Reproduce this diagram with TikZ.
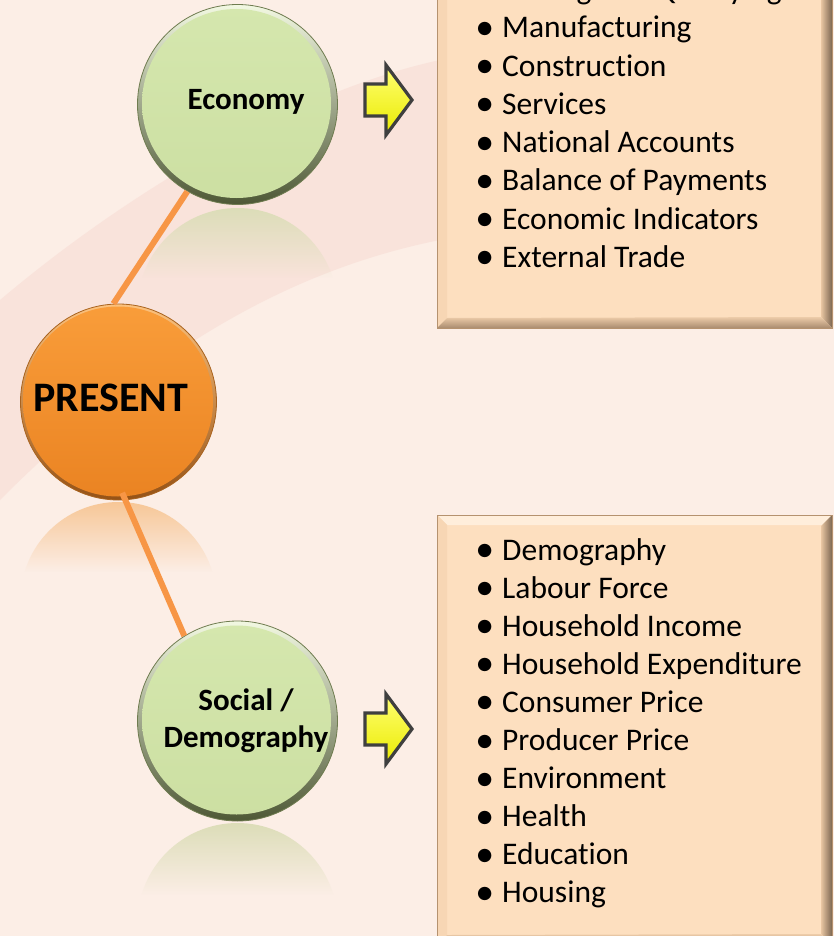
\documentclass[tikz,border=0pt]{standalone}
\usepackage{fontspec}
\setmainfont{Carlito}[Ligatures=NoCommon]
\newfontfamily\dotfont{DejaVu Sans}
\usetikzlibrary{fadings}

\definecolor{bgcol}{HTML}{FCEEE6}
\definecolor{swooshcol}{HTML}{F5CFC8}
\definecolor{greentop}{HTML}{D5E7AE}
\definecolor{greenbot}{HTML}{CCDFA2}
\definecolor{greenrimA}{HTML}{F2F8E2}
\definecolor{greenrimB}{HTML}{4E5836}
\definecolor{greenline}{HTML}{6F7C50}
\definecolor{orangetop}{HTML}{F99D3A}
\definecolor{orangebot}{HTML}{EA8322}
\definecolor{orangerimA}{HTML}{FCC27E}
\definecolor{orangerimB}{HTML}{955216}
\definecolor{orangeline}{HTML}{A9631F}
\definecolor{reflgreen}{HTML}{DCDDB8}
\definecolor{reflorange}{HTML}{F7C797}
\definecolor{linkorange}{HTML}{F79646}
\definecolor{boxface}{HTML}{FDDFBF}
\definecolor{boxline}{HTML}{B5926F}
\definecolor{bevtop}{HTML}{FFEEDB}
\definecolor{bevleft}{HTML}{F7D6B4}
\definecolor{bevRin}{HTML}{E9C6A2}
\definecolor{bevRout}{HTML}{7C6651}
\definecolor{bevBin}{HTML}{EDCCA9}
\definecolor{bevBout}{HTML}{A98B6F}
\definecolor{arrowline}{HTML}{3F3F3F}

\newcommand\dotmark{\makebox[25pt][l]{\raisebox{4.5pt}{\dotfont\fontsize{17.5}{17.5}\selectfont ●}}}

\tikzset{
  bubble/.style={circle, inner sep=0pt, line width=0.8pt},
  greenball/.style={bubble, minimum size=200pt, draw=greenline,
    top color=greenrimA, bottom color=greenrimB,
    path picture={\shade[top color=greentop, bottom color=greenbot]
      ([shift={(-1pt,1pt)}]path picture bounding box.center) circle (94.5pt);}},
  orangeball/.style={bubble, minimum size=196pt, draw=orangeline,
    top color=orangerimA, bottom color=orangerimB,
    path picture={\shade[top color=orangetop, bottom color=orangebot]
      ([shift={(-0.5pt,0.5pt)}]path picture bounding box.center) circle (95pt);}},
  bubbletext/.style={font=\bfseries\fontsize{31}{37}\selectfont, align=center, inner sep=0pt},
  link/.style={draw=linkorange, line width=6pt},
  listbox/.style={rectangle, inner sep=0pt, draw=boxline, line width=1pt, fill=boxface,
    path picture={
      \path (path picture bounding box.north west) coordinate (pNW)
            (path picture bounding box.north east) coordinate (pNE)
            (path picture bounding box.south west) coordinate (pSW)
            (path picture bounding box.south east) coordinate (pSE);
      \fill[bevtop] (pNW) -- (pNE) -- ([shift={(-10pt,-10pt)}]pNE) -- ([shift={(10pt,-10pt)}]pNW) -- cycle;
      \fill[bevleft] (pNW) -- ([shift={(10pt,-10pt)}]pNW) -- ([shift={(10pt,10pt)}]pSW) -- (pSW) -- cycle;
      \shade[left color=bevRin, right color=bevRout]
        (pNE) -- (pSE) -- ([shift={(-11pt,11pt)}]pSE) -- ([shift={(-11pt,-11pt)}]pNE) -- cycle;
      \shade[top color=bevBin, bottom color=bevBout]
        (pSW) -- ([shift={(10pt,10pt)}]pSW) -- ([shift={(-11pt,11pt)}]pSE) -- (pSE) -- cycle;
    }},
  item/.style={font=\fontsize{31.5}{38}\selectfont, inner sep=0pt, anchor=base west},
  pics/pointer/.style={code={
    \draw[arrowline, line width=3.2pt, line join=miter, top color=yellow!55!white, bottom color=yellow!92!black]
      (-24,-16) -- (-3,-16) -- (-3,-35) -- (23,0) -- (-3,35) -- (-3,16) -- (-24,16) -- cycle;
  }}
}

\begin{document}
\begin{tikzpicture}[x=1pt, y=-1pt]
  \useasboundingbox (0,0) rectangle (834,936);
  \clip (0,0) rectangle (834,936);

  % background
  \fill[bgcol] (0,0) rectangle (834,936);
  \fill[swooshcol, opacity=0.35] (0,300) -- (0,500) .. controls (150,350) and (290,270) .. (440,240)
       -- (440,60) .. controls (300,90) and (130,190) .. (0,300) -- cycle;

  % reflections
  \begin{scope}
    \clip (237.5,308) circle (100pt);
    \fill[reflgreen, path fading=south] (137,208) rectangle (338,278);
  \end{scope}
  \begin{scope}
    \clip (118.5,600) circle (98pt);
    \fill[reflorange, path fading=south] (20,502) rectangle (217,572);
  \end{scope}
  \begin{scope}
    \clip (237.5,923) circle (100pt);
    \fill[reflgreen, path fading=south] (137,823) rectangle (338,895);
  \end{scope}

  % circles
  \node[greenball] (eco) at (237.5,104.5) {};
  \node[orangeball] (pres) at (118.5,402) {};
  \node[greenball] (soc) at (237.5,721) {};

  \node[bubbletext, anchor=base] (ecoTxt) at (246,110) {Economy};
  \node[bubbletext, anchor=base, font=\bfseries\fontsize{42}{42}\selectfont] (presTxt) at (110.5,411) {PRESENT};
  \node[bubbletext] (socTxt) at (246,721) {Social /\\Demography};

  % links
  \draw[link] (eco.240) -- (pres.93);
  \draw[link, shorten <=-8pt] (pres.-86) -- (soc.122);

  % pointers
  \pic (ecoArrow) at (389,100) {pointer};
  \pic (socArrow) at (389,729) {pointer};

  % lists
  \node[listbox, minimum width=395pt, minimum height=348pt] (ecoBox) at (634.5,154) {};
  \node[listbox, minimum width=395pt, minimum height=430pt] (socBox) at (634.5,730) {};

  \foreach \txt [count=\i] in {Mining and Quarrying, Manufacturing, Construction, Services,
      National Accounts, Balance of Payments, Economic Indicators, External Trade}
    \node[item] (ecoItem\i) at (477,{-0.2+38.2*(\i-1)}) {\dotmark\txt};

  \foreach \txt [count=\i] in {Demography, Labour Force, Household Income, Household Expenditure,
      Consumer Price, Producer Price, Environment, Health, Education, Housing}
    \node[item] (socItem\i) at (477,{560+38.1*(\i-1)}) {\dotmark\txt};
\end{tikzpicture}
\end{document}
